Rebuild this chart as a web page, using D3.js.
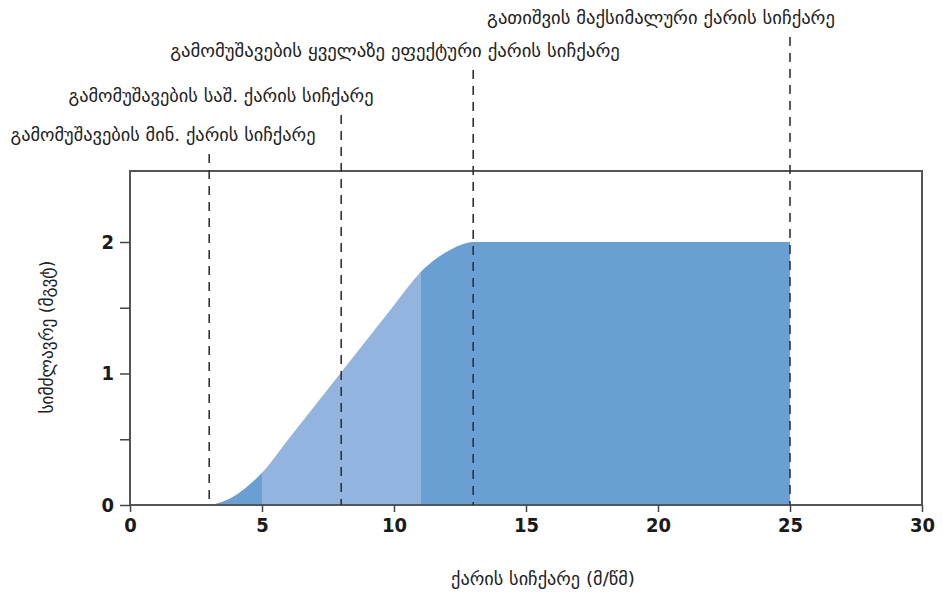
<!DOCTYPE html>
<html><head><meta charset="utf-8">
<script src="https://cdn.jsdelivr.net/npm/d3@7"></script>
<style>body{margin:0;background:#fff}</style>
</head><body>
<svg id="c" width="943" height="593"></svg>
<script>
const windSpeed = [3, 3.5, 4, 4.5, 5, 6, 7, 8, 9, 10, 10.5, 11, 11.5, 12, 12.5, 13, 15, 20, 25];
const power     = [0, 0.025, 0.075, 0.15, 0.245, 0.5, 0.755, 1.01, 1.265, 1.52, 1.65, 1.77, 1.86, 1.925, 1.975, 2.0, 2.0, 2.0, 2.0];
const zoneStarts = [3, 5, 11];
const zoneEnds   = [5, 11, 25];
const zoneColors = ["#6a9fd4", "#93b4df", "#6a9fd4"];
const markerSpeeds = [3, 8, 13, 25];
const markerLabels = [
  "გამომუშავების მინ. ქარის სიჩქარე",
  "გამომუშავების საშ. ქარის სიჩქარე",
  "გამომუშავების ყველაზე ეფექტური ქარის სიჩქარე",
  "გათიშვის მაქსიმალური ქარის სიჩქარე"
];
const xTicks = [0, 5, 10, 15, 20, 25, 30];
const yTicks = [0, 0.5, 1, 1.5, 2];
const yTickLabels = ["0", "", "1", "", "2"];
const xTitle = "ქარის სიჩქარე (მ/წმ)";
const yTitle = "სიმძლავრე (მგვტ)";

const svg = d3.select("#c");
const L = 130, R = 922, T = 171, B = 505;
const x = d3.scaleLinear().domain([0, 30]).range([L, R]);
const y = d3.scaleLinear().domain([0, 2.54]).range([B, T]);

const data = windSpeed.map((w, i) => ({w, p: power[i]}));
const area = d3.area().x(d => x(d.w)).y0(y(0)).y1(d => y(d.p)).curve(d3.curveMonotoneX);

const defs = svg.append("defs");
zoneStarts.forEach((s, i) => {
  defs.append("clipPath").attr("id", "z" + i).append("rect")
    .attr("x", x(s)).attr("y", T).attr("width", x(zoneEnds[i]) - x(s)).attr("height", B - T);
  svg.append("path").datum(data).attr("d", area)
    .attr("fill", zoneColors[i]).attr("clip-path", `url(#z${i})`);
});

// frame
svg.append("rect").attr("x", L).attr("y", T).attr("width", R - L).attr("height", B - T)
  .attr("fill", "none").attr("stroke", "#555").attr("stroke-width", 2);

// axes
const fontTick = "'DejaVu Sans Condensed', 'DejaVu Sans', sans-serif";
const xAxis = d3.axisBottom(x).tickValues(xTicks).tickSize(7).tickPadding(6).tickFormat(d3.format("d"));
const gx = svg.append("g").attr("transform", `translate(0,${B})`).call(xAxis);
const yAxis = d3.axisLeft(y).tickValues(yTicks).tickSize(10).tickPadding(6).tickFormat((d, i) => yTickLabels[i]);
const gy = svg.append("g").attr("transform", `translate(${L},0)`).call(yAxis);
[gx, gy].forEach(g => {
  g.select(".domain").remove();
  g.selectAll(".tick line").attr("stroke", "#444").attr("stroke-width", 1.5);
  g.selectAll(".tick text").attr("fill", "#1a1a1a").style("font-family", fontTick)
    .style("font-weight", "bold").style("font-size", "20px");
});

const labelFont = "'DejaVu Sans', sans-serif";
function fitText(sel, target) {
  const len = sel.node().getComputedTextLength();
  sel.style("font-size", (15 * target / len).toFixed(2) + "px");
}

// marker lines and labels
const labelY = [134, 95, 50, 17];
const labelCenterX = [163, 221, 395, 661];
const labelWidth = [305, 305, 450, 348];
markerSpeeds.forEach((s, i) => {
  svg.append("line").attr("x1", x(s)).attr("x2", x(s)).attr("y1", labelY[i] + 20).attr("y2", B)
    .attr("stroke", "#333").attr("stroke-width", 1.6).attr("stroke-dasharray", "9,7");
  const t = svg.append("text").attr("x", labelCenterX[i]).attr("y", labelY[i]).attr("text-anchor", "middle")
    .attr("dominant-baseline", "central")
    .style("font-family", labelFont).style("font-size", "15px").attr("fill", "#222").text(markerLabels[i]);
  fitText(t, labelWidth[i]);
});

const xt = svg.append("text").attr("x", 543).attr("y", 578).attr("text-anchor", "middle")
  .attr("dominant-baseline", "central").style("font-family", labelFont).style("font-size", "15px")
  .attr("fill", "#222").text(xTitle);
fitText(xt, 184);
const yt = svg.append("text").attr("transform", `translate(47,337) rotate(-90)`).attr("text-anchor", "middle")
  .attr("dominant-baseline", "central").style("font-family", labelFont).style("font-size", "15px")
  .attr("fill", "#222").text(yTitle);
fitText(yt, 153);
</script>
</body></html>
